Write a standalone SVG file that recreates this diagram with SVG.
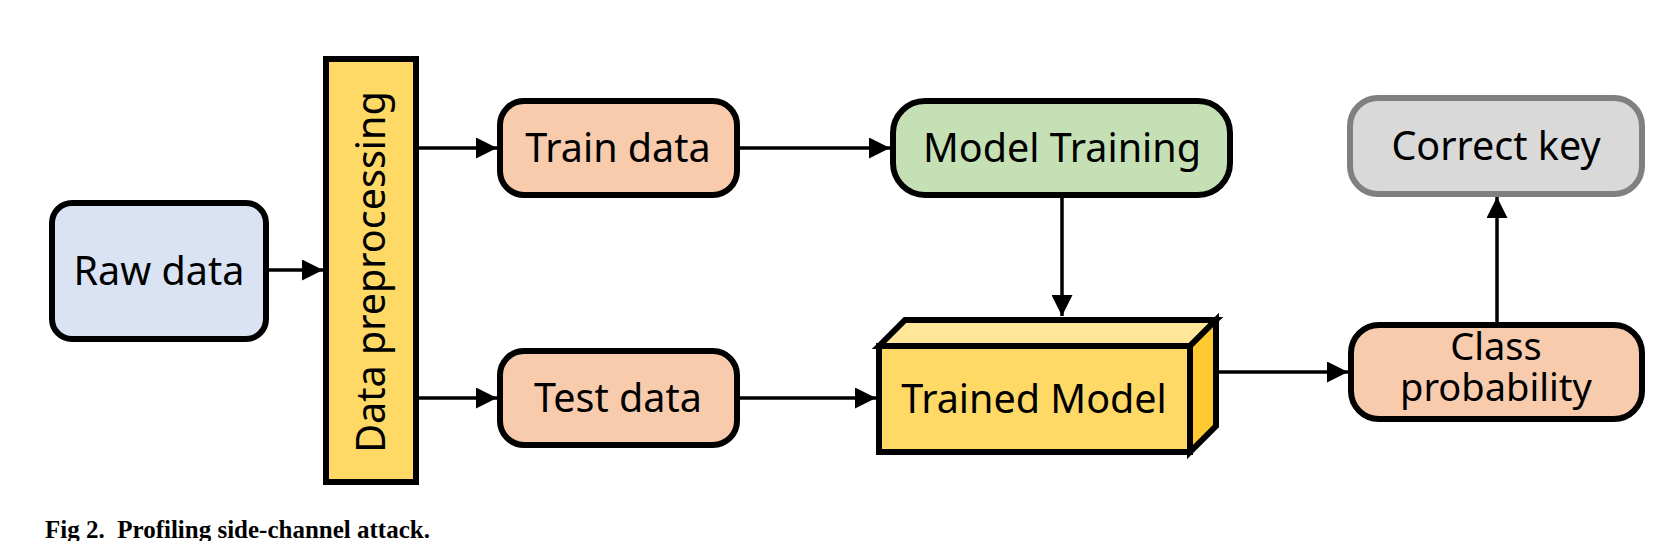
<svg xmlns="http://www.w3.org/2000/svg" width="1668" height="541" viewBox="0 0 1668 541">
<style>
.box{stroke:#000;stroke-width:6;}
.lbl{font-family:"Noto Sans","Open Sans",sans-serif;font-size:39.5px;fill:#000;text-anchor:middle;}
.conn{stroke:#000;stroke-width:3.5;fill:none;marker-end:url(#ah);}
.cap{font-family:"Liberation Serif",serif;font-weight:bold;font-size:25px;fill:#000;}
</style>
<defs>
<marker id="ah" viewBox="0 0 10 10" refX="10" refY="5" markerWidth="6" markerHeight="6" orient="auto" markerUnits="strokeWidth">
<path d="M0,0 L10,5 L0,10 Z" fill="#000"/>
</marker>
</defs>
<rect width="1668" height="541" fill="#fff"/>
<g id="connectors">
<line class="conn" x1="269" y1="270" x2="323" y2="270"/>
<line class="conn" x1="419" y1="148" x2="497" y2="148"/>
<line class="conn" x1="419" y1="398" x2="497" y2="398"/>
<line class="conn" x1="740" y1="148" x2="890" y2="148"/>
<line class="conn" x1="740" y1="398" x2="876" y2="398"/>
<line class="conn" x1="1062" y1="198" x2="1062" y2="316"/>
<line class="conn" x1="1219" y1="372" x2="1348" y2="372"/>
<line class="conn" x1="1497" y1="322" x2="1497" y2="197"/>
</g>
<g id="raw-data">
<rect class="box" x="52" y="203" width="214" height="136" rx="20" fill="#dae3f3"/>
<text class="lbl" x="159" y="285">Raw data</text>
</g>
<g id="data-preprocessing">
<rect class="box" x="326" y="59" width="90" height="423" fill="#ffd966"/>
<text class="lbl" transform="translate(385,272) rotate(-90)" x="0" y="0">Data preprocessing</text>
</g>
<g id="train-data">
<rect class="box" x="500" y="101" width="237" height="94" rx="24" fill="#f8cbad"/>
<text class="lbl" x="618" y="162">Train data</text>
</g>
<g id="test-data">
<rect class="box" x="500" y="351" width="237" height="94" rx="24" fill="#f8cbad"/>
<text class="lbl" x="618" y="412">Test data</text>
</g>
<g id="model-training">
<rect class="box" x="893" y="101" width="337" height="94" rx="32" fill="#c5e0b4"/>
<text class="lbl" x="1062" y="162">Model Training</text>
</g>
<g id="trained-model">
<polygon class="box" points="879,346 905,320 1216,320 1190,346" fill="#ffe699" stroke-linejoin="miter"/>
<polygon class="box" points="1190,346 1216,320 1216,426 1190,452" fill="#ffc931" stroke-linejoin="miter"/>
<rect class="box" x="879" y="346" width="311" height="106" fill="#ffd966"/>
<text class="lbl" x="1034" y="413">Trained Model</text>
</g>
<g id="class-probability">
<rect class="box" x="1351" y="325" width="291" height="94" rx="28" fill="#f8cbad"/>
<text class="lbl" x="1496" y="360" style="font-size:38px">Class</text>
<text class="lbl" x="1496" y="401" style="font-size:38px">probability</text>
</g>
<g id="correct-key">
<rect x="1350" y="98" width="292" height="96" rx="28" fill="#d9d9d9" stroke="#808080" stroke-width="6"/>
<text class="lbl" x="1496" y="160">Correct key</text>
</g>
<text class="cap" x="45" y="538" xml:space="preserve">Fig 2.  Profiling side-channel attack.</text>
</svg>
